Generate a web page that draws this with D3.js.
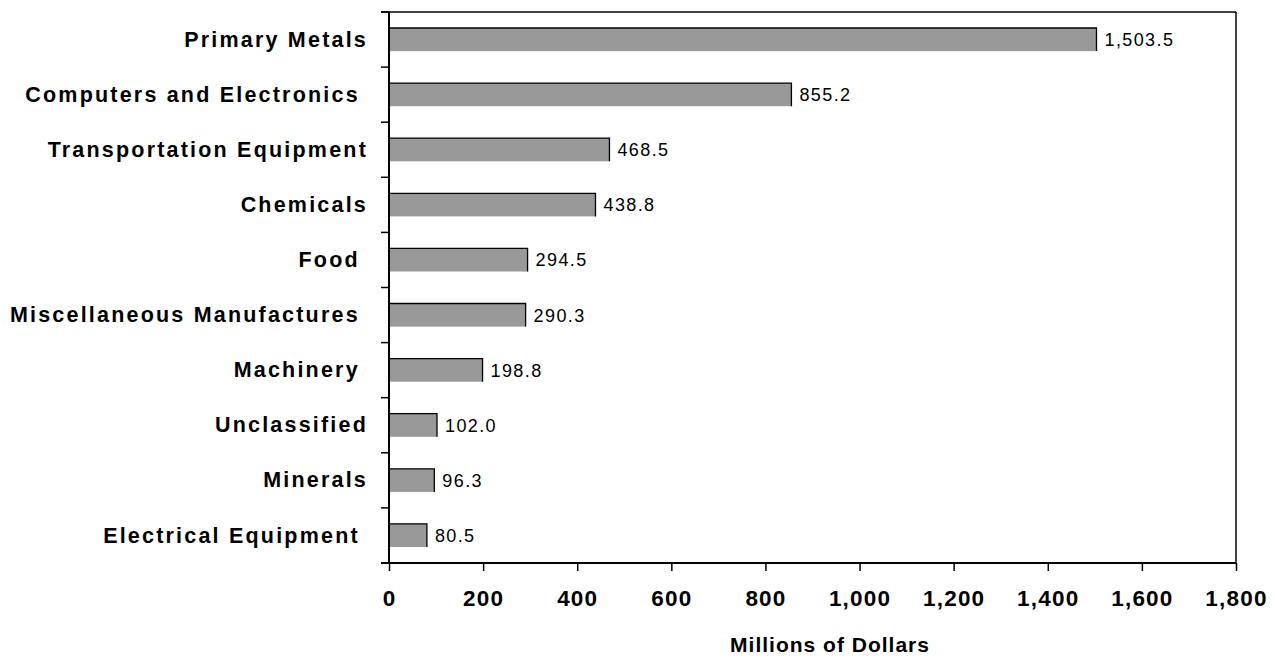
<!DOCTYPE html>
<html><head><meta charset="utf-8">
<script src="https://cdn.jsdelivr.net/npm/d3@7"></script>
<style>body{margin:0;background:#fff}svg{display:block}text{font-family:Arial,"Liberation Sans",sans-serif}</style>
</head><body><svg id="c" width="1278" height="658"></svg>
<script>
const categories = ["Primary Metals","Computers and Electronics ","Transportation Equipment","Chemicals","Food ","Miscellaneous Manufactures ","Machinery ","Unclassified","Minerals","Electrical Equipment "];
const values = [1503.5,855.2,468.5,438.8,294.5,290.3,198.8,102.0,96.3,80.5];
const xTicks = [0,200,400,600,800,1000,1200,1400,1600,1800];
const xTitle = "Millions of Dollars";

const svg = d3.select("#c");
const L = 389, R = 1236, T = 12, B = 563;
const x = d3.scaleLinear().domain([0,1800]).range([L,R]);
const y = d3.scaleBand().domain(d3.range(categories.length)).range([T,B]).paddingInner(0.58).paddingOuter(0.29);
const band = d3.scaleBand().domain(d3.range(categories.length)).range([T,B]);

// frame
svg.append("line").attr("x1",L-8).attr("x2",R).attr("y1",T).attr("y2",T).attr("stroke","#000").attr("stroke-width",1.5);
svg.append("line").attr("x1",R).attr("x2",R).attr("y1",T).attr("y2",B).attr("stroke","#000").attr("stroke-width",1.5);

// bars
const g = svg.append("g");
values.forEach((v,i)=>{
  const y0 = y(i), h = y.bandwidth(), x1 = x(v);
  g.append("rect").attr("x",L).attr("y",y0).attr("width",x1-L).attr("height",h).attr("fill","#999999");
  g.append("path").attr("d",`M${L},${y0}H${x1}V${y0+h}`).attr("fill","none").attr("stroke","#000").attr("stroke-width",1.3);
  g.append("text").attr("x",x1+8).attr("y",y0+h/2).attr("dy","0.36em")
    .attr("font-size",18).attr("letter-spacing","1.4px").attr("fill","#000")
    .text(d3.format(",.1f")(v));
});

// left axis
svg.append("line").attr("x1",L).attr("x2",L).attr("y1",T).attr("y2",B).attr("stroke","#000").attr("stroke-width",2);
d3.range(categories.length+1).forEach(k=>{
  const yy = T + k*band.step();
  svg.append("line").attr("x1",L-8).attr("x2",L).attr("y1",yy).attr("y2",yy).attr("stroke","#000").attr("stroke-width",1.5);
});
categories.forEach((c,i)=>{
  svg.append("text").attr("x",368).attr("y",y(i)+y.bandwidth()/2).attr("dy","0.33em")
    .attr("text-anchor","end").attr("font-size",21.5).attr("font-weight","bold")
    .attr("letter-spacing","2.2px").style("white-space","pre").text(c);
});

// bottom axis
const xa = svg.append("g").attr("transform",`translate(0,${B})`)
  .call(d3.axisBottom(x).tickValues(xTicks).tickSize(8).tickSizeOuter(0).tickFormat(d3.format(",")));
xa.select(".domain").remove();
xa.selectAll(".tick line").attr("stroke","#000").attr("stroke-width",1.5);
xa.selectAll(".tick text").attr("font-size",22.5).attr("font-weight","bold").attr("fill","#000")
  .attr("font-family","Arial, 'Liberation Sans', sans-serif").attr("letter-spacing","1.2px").attr("y",43).attr("dy","0");
svg.append("line").attr("x1",L-8).attr("x2",R).attr("y1",B).attr("y2",B).attr("stroke","#000").attr("stroke-width",2);

svg.append("text").attr("x",830).attr("y",652).attr("text-anchor","middle")
  .attr("font-size",21).attr("font-weight","bold").attr("letter-spacing","1px").text(xTitle);
</script></body></html>
